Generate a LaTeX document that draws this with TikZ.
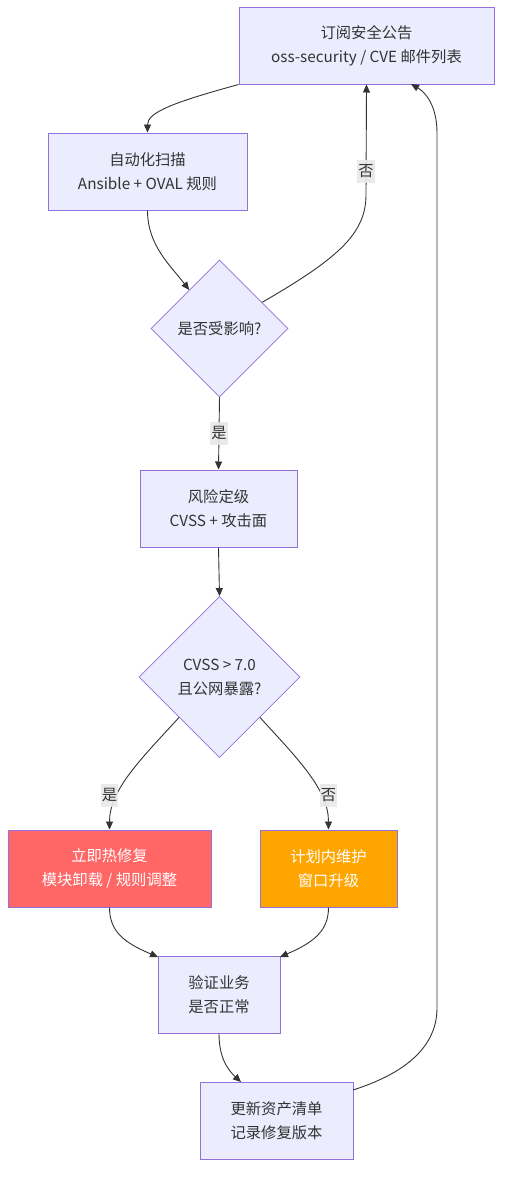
\documentclass[tikz,border=0pt]{standalone}
\usepackage{fontspec}
\setmainfont{Noto Sans CJK SC}
\usetikzlibrary{shapes.geometric,arrows.meta,calc}
\definecolor{boxfill}{HTML}{ECECFF}
\definecolor{boxline}{HTML}{9370DB}
\definecolor{edgecol}{HTML}{333333}
\definecolor{txtcol}{HTML}{333333}
\definecolor{redfill}{HTML}{FF6666}
\definecolor{orangefill}{HTML}{FFA500}
\definecolor{lblfill}{HTML}{E8E8E8}
\begin{document}
\begin{tikzpicture}[x=1pt,y=-1pt,
  every node/.style={font=\fontsize{15.3}{24}\selectfont, text=txtcol},
  procbox/.style={rectangle, draw=boxline, fill=boxfill, line width=1pt, minimum height=77pt, align=center, inner sep=0pt},
  decbox/.style={diamond, aspect=1, draw=boxline, fill=boxfill, line width=0.8pt, align=center, inner sep=0pt},
  conn/.style={draw=edgecol, line width=0.9pt, -{Triangle[length=8pt,width=7pt]}},
  elabel/.style={fill=lblfill, fill opacity=0.9, text opacity=1, inner xsep=1pt, inner ysep=0pt, minimum height=23pt}
]
\useasboundingbox (0,0) rectangle (510,1186);
% nodes
\node[procbox, minimum width=255pt] (sub) at (366.5,45.5) {订阅安全公告\\oss-security / CVE 邮件列表};
\node[procbox, minimum width=199pt] (scan) at (147.5,171.5) {自动化扫描\\Ansible + OVAL 规则};
\node[decbox, minimum size=137pt] (d1) at (219.5,328.5) {是否受影响?};
\node[procbox, minimum width=157pt] (risk) at (218.5,508.5) {风险定级\\CVSS + 攻击面};
\node[decbox, minimum size=161pt] (d2) at (219.5,677) {CVSS > 7.0\\且公网暴露?};
\node[procbox, minimum width=203pt, fill=redfill, text=white] (hot) at (109.5,868.5) {立即热修复\\模块卸载 / 规则调整};
\node[procbox, minimum width=137pt, fill=orangefill, text=white] (plan) at (328.5,868.5) {计划内维护\\窗口升级};
\node[procbox, minimum width=122pt] (verify) at (219,994.5) {验证业务\\是否正常};
\node[procbox, minimum width=153pt] (upd) at (276.5,1120.5) {更新资产清单\\记录修复版本};
% helper coordinates
\coordinate (d1in) at ($(d1.north)!0.44!(d1.west)$);
\coordinate (d1out) at ($(d1.north)!0.62!(d1.east)$);
\coordinate (e3a) at (366,195);
\coordinate (e11a) at (437,1008);
\coordinate (e11b) at (437,133);
\coordinate (subin) at (411,84);
\coordinate (updout) at (353,1090);
\coordinate (verl) at (158,957);
\coordinate (verr) at (280,957);
\coordinate (updin) at (241,1082);
% connectors
\draw[conn] (sub.south west) .. controls (175,102) and (147.5,112) .. (scan.north);
\draw[conn] (scan.south) .. controls (147.5,245) and (170,265) .. (d1in);
\draw[conn] (d1out) .. controls (335,260) and (366,235) .. (e3a) -- (sub.south);
\node[elabel] (lno1) at (366,171) {否};
\draw[conn] (d1.south) -- node[elabel] (lyes1) {是} (risk.north);
\draw[conn] (risk.south) -- (d2.north);
\draw[conn] (d2.south west) .. controls (140,760) and (109.5,790) .. (hot.north);
\node[elabel] (lyes) at (109.5,795) {是};
\draw[conn] (d2.south east) .. controls (299,760) and (328.5,790) .. (plan.north);
\node[elabel] (lno) at (328.5,795) {否};
\draw[conn] (hot.south) .. controls (109.5,932) and (125,943) .. (verl);
\draw[conn] (plan.south) .. controls (328.5,932) and (312,943) .. (verr);
\draw[conn] (verify.south) .. controls (219,1058) and (228,1070) .. (updin);
\draw[conn] (updout) .. controls (400,1075) and (437,1050) .. (e11a) -- (e11b)
  .. controls (437,105) and (425,92) .. (subin);
\end{tikzpicture}
\end{document}
